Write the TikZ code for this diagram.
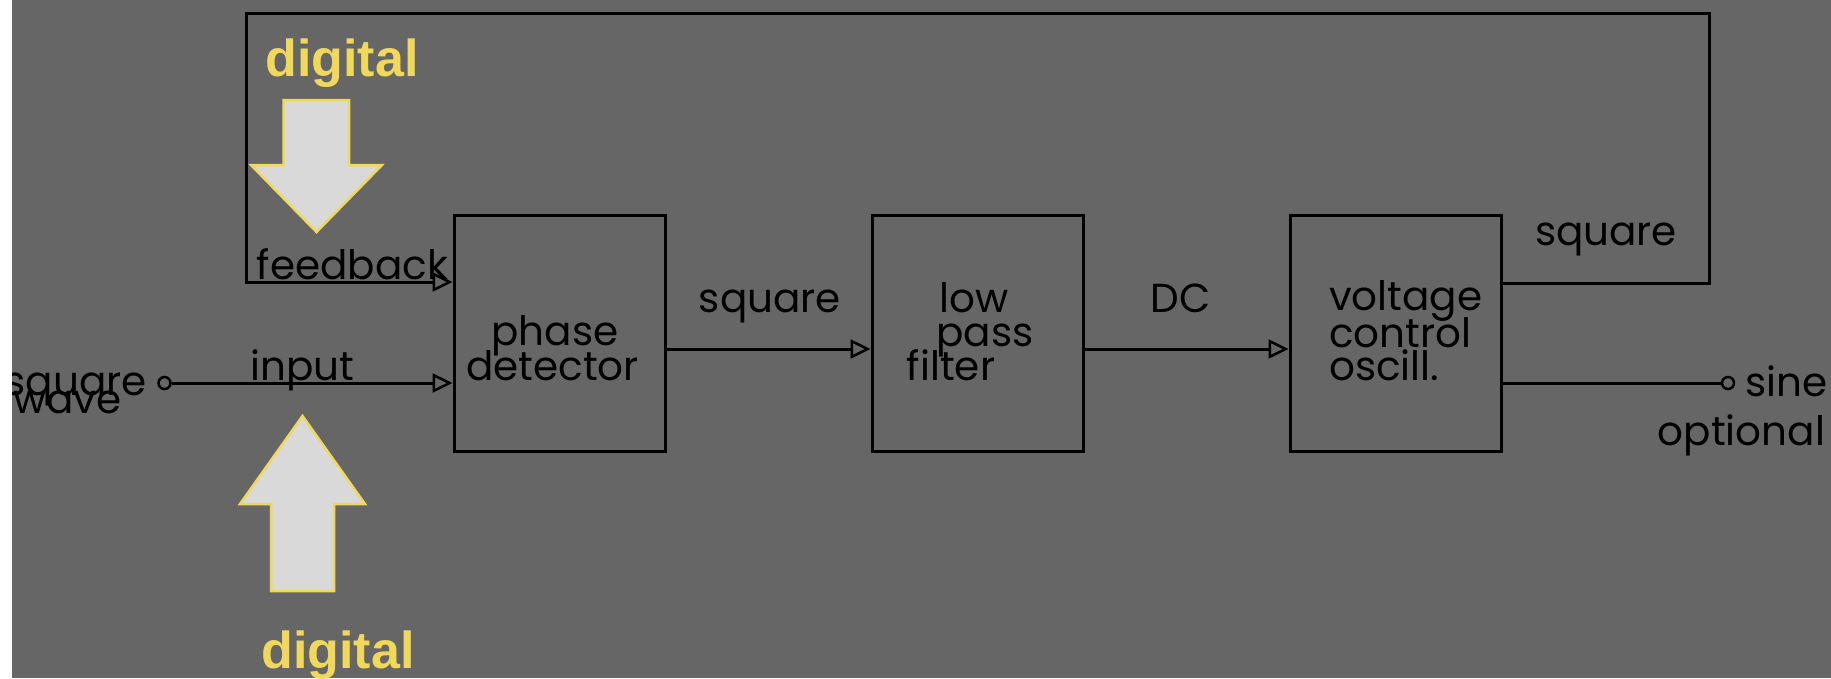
\documentclass[tikz,border=0pt]{standalone}
\usepackage{fontspec}
\setmainfont{Poppins}
\newfontfamily\digfont{Liberation Sans}
\usetikzlibrary{arrows.meta}

\definecolor{bggray}{RGB}{102,102,102}
\definecolor{sigyellow}{RGB}{240,216,90}
\definecolor{arrowfill}{RGB}{217,217,217}

\begin{document}
\begin{tikzpicture}[x=1pt,y=-1pt,
  wire/.style={line width=3pt, draw=black},
  sig/.style={wire, -{Triangle[open, length=20pt, width=19pt, line width=2.5pt]}},
  block/.style={draw=black, line width=3pt, minimum width=211pt, minimum height=236pt, inner sep=0pt},
  lbl/.style={inner sep=0pt, font=\fontsize{40.5}{40.5}\selectfont},
  term/.style={circle, draw=black, line width=2.5pt, minimum size=12pt, inner sep=0pt, fill=bggray},
  bigarrow/.style={fill=arrowfill, draw=sigyellow, line width=2.5pt, line join=miter},
  digi/.style={anchor=base, inner sep=0pt, text=sigyellow, font=\digfont\bfseries\fontsize{52}{52}\selectfont}
]
% canvas
\fill[bggray] (0,0) rectangle (1831,678);
\useasboundingbox (0,0) rectangle (1831,678);

% blocks
\node[block] (pd)  at (559.5,333) {};
\node[block] (lpf) at (977.5,333) {};
\node[block] (vco) at (1395.5,333) {};

% terminals
\node[term] (in)  at (164.5,383) {};
\node[term] (out) at (1728,383) {};

% loop corners
\coordinate (loopR) at (1709,13);
\coordinate (loopL) at (246,13);

% signal paths
\draw[sig] (in) -- (in -| pd.west);
\draw[sig] ([yshift=50pt]vco.east) -| (loopR) -- (loopL) |- ([yshift=51pt]pd.west);
\draw[sig] ([yshift=-16pt]pd.east) -- ([yshift=-16pt]lpf.west);
\draw[sig] ([yshift=-16pt]lpf.east) -- ([yshift=-16pt]vco.west);
\draw[wire] (out -| vco.east) -- (out);

% block texts
\node[lbl, anchor=base] (t1) at (555,345) {phase};
\node[lbl, anchor=base] (t2) at (552.5,380) {detector};
\node[lbl, anchor=base] (t3) at (974,312) {low};
\node[lbl, anchor=base] (t4) at (985,346) {pass};
\node[lbl, anchor=base] (t5) at (951,380) {filter};
\node[lbl, anchor=base west] (t6) at (1329,310) {voltage};
\node[lbl, anchor=base west] (t7) at (1329,347) {control};
\node[lbl, anchor=base west] (t8) at (1329,380) {oscill.};

% signal labels
\node[lbl, anchor=base east] (l1) at (147,395) {square};
\node[lbl, anchor=base west] (l2) at (13,413) {wave};
\node[lbl, anchor=base] (l3) at (302.5,380) {input};
\node[lbl, anchor=base] (l4) at (352.5,279) {feedback};
\node[lbl, anchor=base] (l5) at (770,312) {square};
\node[lbl, anchor=base] (l6) at (1180.5,312) {DC};
\node[lbl, anchor=base] (l7) at (1606,245) {square};
\node[lbl, anchor=base west] (l8) at (1745,396) {sine};
\node[lbl, anchor=base] (l9) at (1741.5,445) {optional};

% digital-input markers
\draw[bigarrow] (283.5,100) -- (349,100) -- (349,165) -- (382,165) -- (316.5,232) -- (251,165) -- (283.5,165) -- cycle;
\draw[bigarrow] (271,591) -- (334,591) -- (334,504) -- (365,504) -- (302.5,416) -- (240,504) -- (271,504) -- cycle;
\node[digi] (d1) at (342,76) {digital};
\node[digi] (d2) at (338,668) {digital};

% left margin strip
\fill[white] (0,0) rectangle (12,678);
\end{tikzpicture}
\end{document}
